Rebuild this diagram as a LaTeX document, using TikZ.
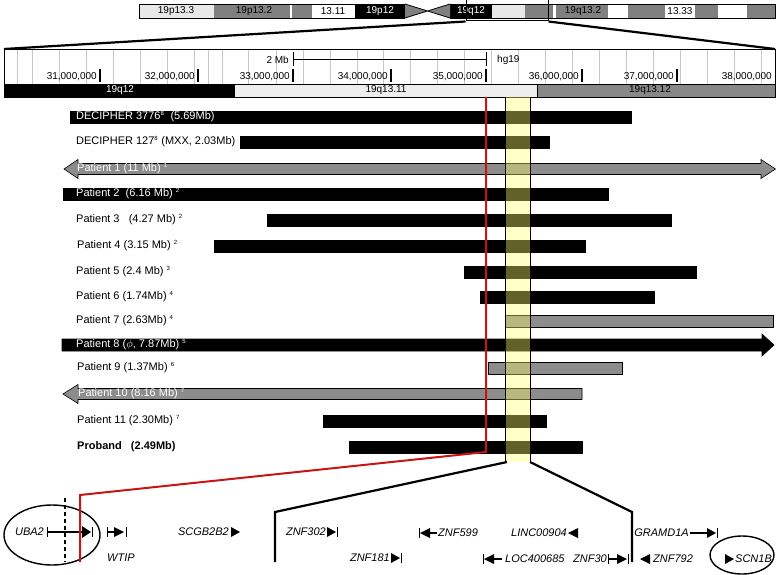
\documentclass[tikz,border=0pt]{standalone}
\usepackage{fontspec}
\setmainfont{Liberation Sans}
\usetikzlibrary{shapes.geometric}
\definecolor{ideolight}{RGB}{232,232,232}
\definecolor{ideodark}{RGB}{128,128,128}
\definecolor{rulerlight}{RGB}{238,238,238}
\definecolor{rulerdark}{RGB}{136,136,136}
\definecolor{bargray}{RGB}{140,140,140}
\definecolor{gridgray}{RGB}{200,200,200}
\definecolor{redline}{RGB}{200,20,20}
\definecolor{bandyellow}{RGB}{255,255,110}
\tikzset{
  band/.style={draw=black, line width=0.6pt},
  ideotxt/.style={font=\fontsize{10}{12}\selectfont, inner sep=0pt},
  rultxt/.style={font=\fontsize{10}{12}\selectfont, inner sep=0pt, anchor=east},
  lbl/.style={font=\fontsize{11}{13}\selectfont, anchor=west, inner sep=0pt},
  wlbl/.style={lbl, text=white},
  barb/.style={fill=black, draw=black, inner sep=0pt, outer sep=0pt, minimum height=12pt, line width=0.5pt},
  barg/.style={barb, fill=bargray},
  gene/.style={font=\fontsize{11}{13}\selectfont\itshape, inner sep=0pt},
  gline/.style={line width=2.5pt},
  gtick/.style={line width=1pt},
  zoomline/.style={line width=2.2pt, line join=miter},
}
\newcommand\barnode[5]{\node[#5, minimum width={#3-#2}] (#1) at ({(#2+#3)/2},#4) {};}
\newcommand\sups[1]{\textsuperscript{\fontsize{6}{6}\selectfont #1}}
\begin{document}
\begin{tikzpicture}[x=1pt, y=-1pt]
\useasboundingbox (0,0) rectangle (776,575);
% ---------- chromosome ideogram ----------
\foreach \a/\b/\c in {139/214/ideolight, 214/290/ideodark, 290/292/white, 292/312/ideodark,
  312/355/white, 355/405/black, 450/492/black, 492/525/ideolight, 525/553/ideodark,
  553/556/white, 556/608/ideodark, 608/628/white, 628/665/ideodark, 665/695/white,
  695/718/ideodark, 718/747/white, 747/775.5/ideodark}
  \fill[\c] (\a,4) rectangle (\b,18);
\draw[band] (405,4) -- (139,4) -- (139,18) -- (405,18);
\draw[band] (450,4) -- (775.5,4) -- (775.5,18) -- (450,18);
\fill[ideodark] (405,4) -- (428,11) -- (405,18) -- cycle;
\fill[ideodark] (450,4) -- (428,11) -- (450,18) -- cycle;
\draw[line width=0.8pt] (405,4) -- (450,18) (405,18) -- (450,4);
\node[ideotxt] (b1) at (176,11) {19p13.3};
\node[ideotxt] (b2) at (254,11) {19p13.2};
\node[ideotxt] (b3) at (333,11) {13.11};
\node[ideotxt, text=white] (b4) at (380,11) {19p12};
\node[ideotxt, text=white] (b5) at (471,11) {19q12};
\node[ideotxt] (b6) at (583,11) {19q13.2};
\node[ideotxt] (b7) at (680,11) {13.33};
\node[draw=black, line width=1pt, inner sep=0pt, minimum width=82pt, minimum height=21pt] (sel) at (507,10.5) {};
% ---------- ruler ----------
\node[draw=black, line width=0.8pt, inner sep=0pt, outer sep=0pt, minimum width=771pt, minimum height=48pt] (ruler) at (389.5,73) {};
\draw[zoomline] (sel.south west) -- (ruler.north west);
\draw[zoomline] (sel.south east) -- (ruler.north east);
\foreach \g in {17,32,59,86,113,140,167,194,208,222,248,276,303,330,357,383,410,437,464,491,518,545,572,599,626,653,680,707,734,761}
  \draw[gridgray, line width=0.5pt] (\g,50) -- (\g,84);
\foreach \t/\l in {100/31,198/32,293/33,391/34,486/35,582/36,677/37}{
  \draw[line width=1.5pt] (\t,69) -- (\t,82);
  \node[rultxt] at ({\t-3},77) {\l,000,000};
}
\draw[line width=1.5pt] (4.5,69) -- (4.5,82);
\node[rultxt] (l38) at (772,77) {38,000,000};
\node[font=\fontsize{10}{12}\selectfont, inner sep=0pt, anchor=east] (twomb) at (289,60) {2 Mb};
\coordinate (sbl) at (293,59);
\coordinate (sbr) at (486,59);
\draw[line width=0.8pt] (sbl) -- (sbr);
\draw[line width=1pt] (293,52) -- (293,66) (486,52) -- (486,66);
\node[font=\fontsize{10}{12}\selectfont, inner sep=0pt, anchor=west] (hg) at (497,60) {hg19};
\fill[black] (4,84) rectangle (235,97);
\fill[rulerlight] (235,84) rectangle (537,97);
\fill[rulerdark] (537,84) rectangle (775,97);
\draw[line width=0.8pt] (4,84) rectangle (775,97);
\draw[line width=0.8pt] (537,84) -- (537,97);
\node[ideotxt, text=white] (r1) at (120,90.5) {19q12};
\node[ideotxt] (r2) at (386,90.5) {19q13.11};
\node[ideotxt] (r3) at (650,90.5) {19q13.12};
% ---------- deletion bars ----------
\barnode{d1}{70}{631}{117}{barb}
\barnode{d2}{240}{549}{142}{barb}
\fill[bargray, draw=black, line width=0.6pt] (64,169) -- (78,159.5) -- (78,163.5) -- (761,163.5) -- (761,159.5) -- (775.5,169) -- (761,178.5) -- (761,174.5) -- (78,174.5) -- (78,178.5) -- cycle;
\barnode{p2}{63}{608}{194}{barb}
\barnode{p3}{267}{671}{220}{barb}
\barnode{p4}{214}{585}{246}{barb}
\barnode{p5}{464}{696}{272}{barb}
\barnode{p6}{480}{654}{297}{barb}
\barnode{p7}{505}{773}{321}{barg}
\fill[black, draw=black, line width=0.6pt] (62,339) -- (762,339) -- (762,334) -- (774,345) -- (762,356) -- (762,351) -- (62,351) -- cycle;
\barnode{p9}{488}{622}{368}{barg}
\fill[bargray, draw=black, line width=0.6pt] (63,394) -- (78,384.5) -- (78,388.5) -- (582,388.5) -- (582,399.5) -- (78,399.5) -- (78,403.5) -- cycle;
\barnode{p11}{323}{546}{421}{barb}
\barnode{pb}{349}{582}{447}{barb}
% ---------- highlighted region ----------
\fill[bandyellow, opacity=0.38] (505.5,97) rectangle (530.5,462);
\draw[line width=1.6pt] (505.5,97) -- (505.5,462) (530.5,97) -- (530.5,462);
% ---------- labels ----------
\node[wlbl] (t1) at (76,117) {DECIPHER 3776\sups{8}\ \ (5.69Mb)};
\node[lbl] (t2) at (76,142) {DECIPHER 127\sups{8} (MXX, 2.03Mb)};
\node[wlbl] (t3) at (77,169) {Patient 1 (11 Mb) \sups{1}};
\node[wlbl] (t4) at (76,194) {Patient 2\ \ (6.16 Mb) \sups{2}};
\node[lbl] (t5) at (76,220) {Patient 3\ \ \ (4.27 Mb) \sups{2}};
\node[lbl] (t6) at (77,246) {Patient 4 (3.15 Mb) \sups{2}};
\node[lbl] (t7) at (76,272) {Patient 5 (2.4 Mb) \sups{3}};
\node[lbl] (t8) at (76,297) {Patient 6 (1.74Mb) \sups{4}};
\node[lbl] (t9) at (76,321) {Patient 7 (2.63Mb) \sups{4}};
\node[wlbl] (t10) at (76,345) {Patient 8 ($\phi$, 7.87Mb) \sups{5}};
\node[lbl] (t11) at (77,368) {Patient 9 (1.37Mb) \sups{6}};
\node[wlbl] (t12) at (78,394) {Patient 10 (8.16 Mb) \sups{7}};
\node[lbl] (t13) at (77,421) {Patient 11 (2.30Mb) \sups{7}};
\node[lbl, font=\fontsize{11}{13}\selectfont\bfseries] (t14) at (77,447) {Proband\ \ \ (2.49Mb)};
% ---------- zoom to genes ----------
\coordinate (zl1) at (507,462);
\coordinate (zl2) at (275,512);
\coordinate (zl3) at (275,562);
\coordinate (zr1) at (530,462);
\coordinate (zr2) at (632,512);
\coordinate (zr3) at (632,562);
\draw[zoomline] (zl1) -- (zl2) -- (zl3);
\draw[zoomline] (zr1) -- (zr2) -- (zr3);
% ---------- genes ----------
\node[draw=black, line width=1.4pt, ellipse, minimum width=96pt, minimum height=60pt, inner sep=0pt] (eu) at (52,535) {};
\draw[dash pattern=on 4pt off 3pt, line width=1.2pt] (65,498) -- (65,562);
\node[gene, anchor=east] (g1) at (44,532) {UBA2};
\draw[gline] (47,532) -- (84,532);
\fill (82,526) -- (91,532) -- (82,538) -- cycle;
\draw[gtick] (47,527) -- (47,537) (92,527) -- (92,537);
\node[gene, anchor=west] (g2) at (107,558) {WTIP};
\draw[gline] (107,532) -- (116,532);
\fill (114,527) -- (124,532) -- (114,537) -- cycle;
\draw[gtick] (107,527) -- (107,537) (126,527) -- (126,537);
\node[gene, anchor=east] (g3) at (229,532) {SCGB2B2};
\fill (231,527) -- (240,532) -- (231,537) -- cycle;
\node[gene, anchor=east] (g4) at (326,532) {ZNF302};
\fill (327,527) -- (336,532) -- (327,537) -- cycle;
\draw[gtick] (337,527) -- (337,537);
\node[gene, anchor=east] (g5) at (390,558) {ZNF181};
\fill (391,553) -- (400,558) -- (391,563) -- cycle;
\draw[gtick] (401,553) -- (401,563);
\node[gene, anchor=west] (g6) at (438,533) {ZNF599};
\fill (420,533) -- (430,528) -- (430,538) -- cycle;
\draw[gline] (428,533) -- (437,533);
\draw[gtick] (419,528) -- (419,538);
\node[gene, anchor=east] (g7) at (567,533) {LINC00904};
\fill (568,533) -- (578,528) -- (578,538) -- cycle;
\node[gene, anchor=west] (g8) at (505,559) {LOC400685};
\fill (484,559) -- (494,554) -- (494,564) -- cycle;
\draw[gline] (492,559) -- (502,559);
\draw[gtick] (483,554) -- (483,564);
\node[gene, anchor=east] (g9) at (607,559) {ZNF30};
\draw[gline] (608,559) -- (619,559);
\fill (617,554) -- (627,559) -- (617,564) -- cycle;
\draw[gtick] (608,554) -- (608,564) (628,554) -- (628,564);
\node[gene, anchor=west] (g10) at (653,559) {ZNF792};
\fill (640,559) -- (650,554) -- (650,564) -- cycle;
\node[gene, anchor=east] (g11) at (689,533) {GRAMD1A};
\draw[gline] (690,533) -- (709,533);
\fill (707,528) -- (716,533) -- (707,538) -- cycle;
\draw[gtick] (717,528) -- (717,538);
\node[draw=black, line width=1.4pt, ellipse, minimum width=64pt, minimum height=38pt, inner sep=0pt] (es) at (742,555) {};
\fill (725,554) -- (734,559) -- (725,564) -- cycle;
\node[gene, anchor=west] (g12) at (735,559) {SCN1B};
% ---------- red marker line ----------
\coordinate (rd1) at (486,97);
\coordinate (rd2) at (486,452);
\coordinate (rd3) at (80,495);
\coordinate (rd4) at (80,562);
\draw[redline, line width=2pt, line join=miter] (rd1) -- (rd2) -- (rd3) -- (rd4);
\end{tikzpicture}
\end{document}
